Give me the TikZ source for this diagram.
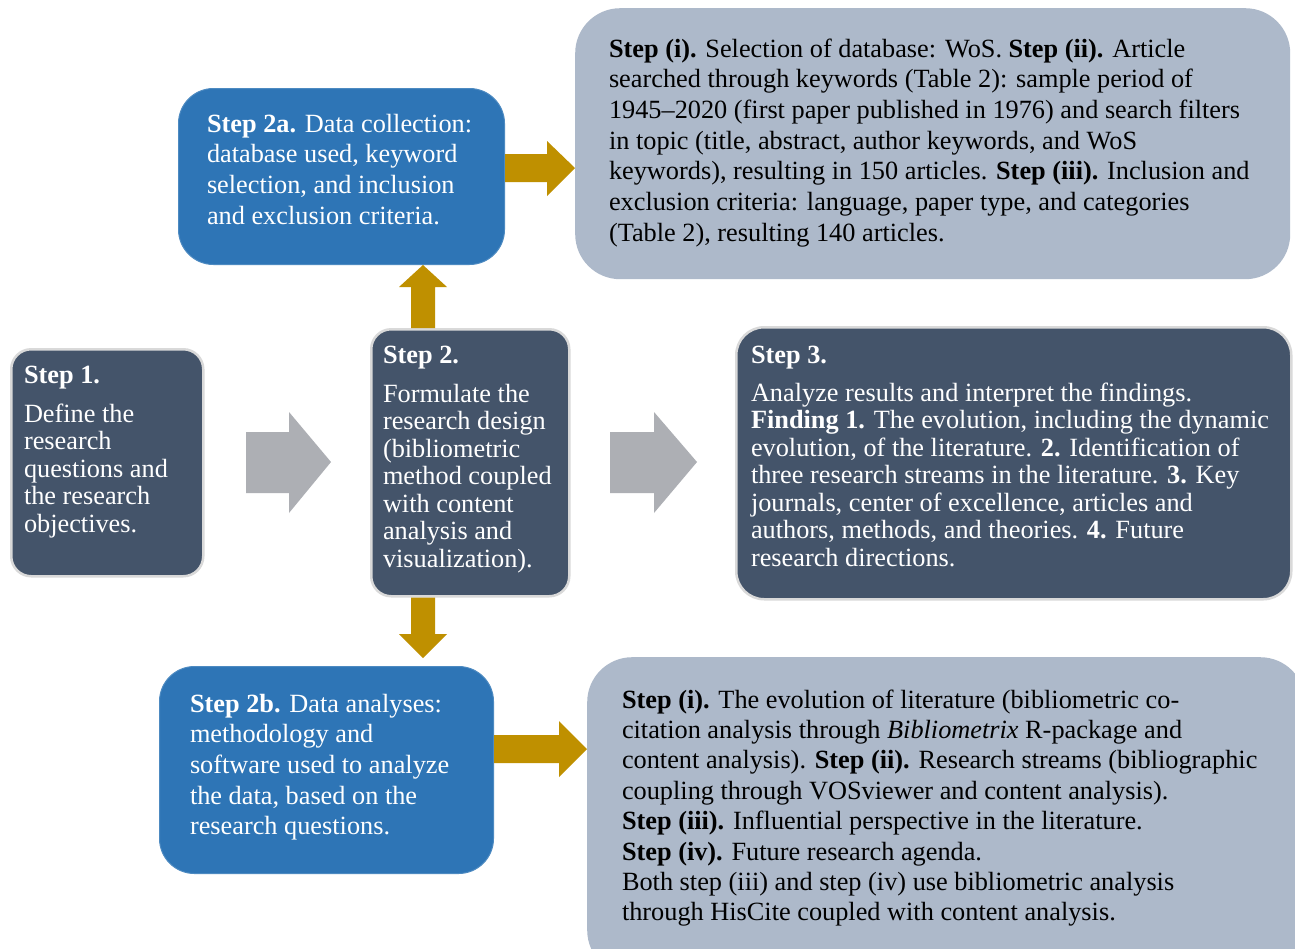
\documentclass[tikz,border=0pt]{standalone}
\usepackage{fontspec}
\setmainfont{Liberation Serif}
\definecolor{slate}{HTML}{44546A}
\definecolor{bluebox}{HTML}{2E75B6}
\definecolor{lightbox}{HTML}{ADB9CA}
\definecolor{gold}{HTML}{BF9000}
\definecolor{grayarrow}{HTML}{ADAFB4}
\definecolor{slateedge}{HTML}{D9D9D9}
\newcommand\btext[1]{\parbox[t]{700pt}{\raggedright #1}}
\begin{document}
\begin{tikzpicture}[x=1pt,y=-1pt,
  darkbox/.style={fill=slate, draw=slateedge, line width=2.5pt, anchor=north west, inner sep=0},
  bluestyle/.style={fill=bluebox, draw=bluebox!85!white, line width=1pt, anchor=north west, inner sep=0, rounded corners=35pt},
  lightstyle/.style={fill=lightbox, draw=none, anchor=north west, inner sep=0, rounded corners=45pt},
  txt/.style={anchor=base west, inner sep=0, outer sep=0},
  tight/.style={font=\fontsize{26.3}{27.5}\selectfont},
  loose/.style={font=\fontsize{26.3}{30.7}\selectfont},
  goldfill/.style={fill=gold},
  grayfill/.style={fill=grayarrow}]
\clip (0,0) rectangle (1295,948);
\fill[white] (0,0) rectangle (1295,948);

% boxes
\node[darkbox, rounded corners=20pt, minimum width=192, minimum height=227] (s1) at (10,348) {};
\node[darkbox, rounded corners=20pt, minimum width=198, minimum height=267] (s2) at (370,328) {};
\node[darkbox, rounded corners=28pt, minimum width=555, minimum height=272] (s3) at (735,326) {};
\node[bluestyle, minimum width=326, minimum height=176] (s2a) at (178,88) {};
\node[bluestyle, minimum width=334, minimum height=207] (s2b) at (159,666) {};
\node[lightstyle, minimum width=715, minimum height=271] (tr) at (575,8) {};
\node[lightstyle, minimum width=718, minimum height=318] (br) at (587,657) {};

% gray arrows
\fill[grayfill] (246,432) -- (289,432) -- (289,412) -- (331,462) -- (289,513) -- (289,493) -- (246,493) -- cycle;
\fill[grayfill] (610,432) -- (654,432) -- (654,412) -- (697,462) -- (654,513) -- (654,493) -- (610,493) -- cycle;

% gold arrows
\fill[goldfill] (s2.north -| 411,0) -- (411,287) -- (399,287) -- (s2a.south -| 423,0) -- (447,287) -- (435,287) -- (s2.north -| 435,0) -- cycle;
\fill[goldfill] (s2.south -| 411,0) -- (411,634) -- (399,634) -- (423,658) -- (447,634) -- (435,634) -- (s2.south -| 435,0) -- cycle;
\fill[goldfill] (s2a.east |- 0,154) -- (547,154) -- (547,141) -- (tr.west |- 0,168) -- (547,196) -- (547,182) -- (s2a.east |- 0,182) -- cycle;
\fill[goldfill] (s2b.east |- 0,735) -- (559,735) -- (559,721) -- (br.west |- 0,749) -- (559,777) -- (559,763) -- (s2b.east |- 0,763) -- cycle;

% texts
\node[txt, tight, text=white] (s1t) at (24,383) {\btext{\textbf{Step 1.}\\[11.5pt]Define the\\research\\questions and\\the research\\objectives.}};
\node[txt, tight, text=white] (s2t) at (383,363) {\btext{\textbf{Step 2.}\\[11.5pt]Formulate the\\research design\\(bibliometric\\method coupled\\with content\\analysis and\\visualization).}};
\node[txt, tight, text=white] (s3t) at (751,363) {\btext{\textbf{Step 3.}\\[10.5pt]Analyze results and interpret the findings.\\
\textbf{Finding 1.} The evolution, including the dynamic\\
evolution, of the literature. \textbf{2.} Identification of\\
three research streams in the literature. \textbf{3.} Key\\
journals, center of excellence, articles and\\
authors, methods, and theories. \textbf{4.} Future\\
research directions.}};
\node[txt, loose, text=white] (s2at) at (207,132) {\btext{\textbf{Step 2a.} Data collection:\\database used, keyword\\selection, and inclusion\\and exclusion criteria.}};
\node[txt, loose, text=white] (s2bt) at (190,712) {\btext{\textbf{Step 2b.} Data analyses:\\methodology and\\software used to analyze\\the data, based on the\\research questions.}};
\node[txt, loose, text=black] (trt) at (609,57) {\btext{\textbf{Step (i).} Selection of database: WoS. \textbf{Step (ii).} Article\\
searched through keywords (Table 2): sample period of\\
1945--2020 (first paper published in 1976) and search filters\\
in topic (title, abstract, author keywords, and WoS\\
keywords), resulting in 150 articles. \textbf{Step (iii).} Inclusion and\\
exclusion criteria: language, paper type, and categories\\
(Table 2), resulting 140 articles.}};
\node[txt, font=\fontsize{26.3}{30.4}\selectfont, text=black] (brt) at (622,708) {\btext{\textbf{Step (i).} The evolution of literature (bibliometric co-\\
citation analysis through \textit{Bibliometrix} R-package and\\
content analysis). \textbf{Step (ii).} Research streams (bibliographic\\
coupling through VOSviewer and content analysis).\\
\textbf{Step (iii).} Influential perspective in the literature.\\
\textbf{Step (iv).} Future research agenda.\\
Both step (iii) and step (iv) use bibliometric analysis\\
through HisCite coupled with content analysis.}};
\end{tikzpicture}
\end{document}
